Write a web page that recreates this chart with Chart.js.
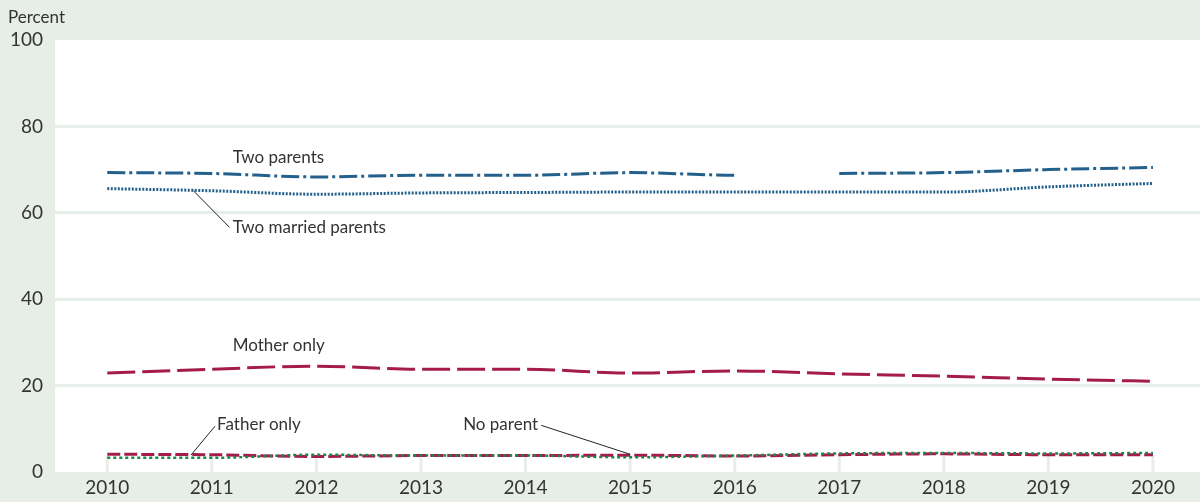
<!DOCTYPE html>
<html>
<head>
<meta charset="utf-8">
<script src="https://cdn.jsdelivr.net/npm/chart.js@4/dist/chart.umd.min.js"></script>
<style>
  html, body { margin: 0; padding: 0; background: #e7eee8; }
  #wrap { width: 1200px; height: 502px; position: relative; }
</style>
</head>
<body>
<div id="wrap"><canvas id="chart"></canvas></div>
<script>
// dados
const anos = [2010, 2011, 2012, 2013, 2014, 2015, 2016, 2017, 2018, 2019, 2020];
const doisPais = [69.3, 69.1, 68.3, 68.7, 68.7, 69.3, 68.7, 69.1, 69.3, 70.0, 70.5];
const doisPaisCasados = [65.6, 65.1, 64.3, 64.6, 64.7, 64.8, 64.8, 64.8, 64.8, 66.0, 66.8];
const soMae = [22.9, 23.8, 24.5, 23.8, 23.8, 22.9, 23.4, 22.7, 22.2, 21.5, 21.0];
const soPai = [4.1, 4.0, 3.6, 3.8, 3.8, 3.9, 3.7, 4.0, 4.2, 4.0, 4.0];
const semPais = [3.3, 3.3, 4.0, 3.8, 3.8, 3.4, 3.8, 4.3, 4.4, 4.3, 4.4];
const yTicks = [0, 20, 40, 60, 80, 100];

const BG = "#e7eee8";
const AZUL = "#24608c";
const VERMELHO = "#a51c4b";
const VERDE = "#17884a";
const TEXTO = "#333333";
const FONTE = "Lato, 'Open Sans', sans-serif";

// rótulos: [texto, x, y, alinhamento, linha guia (x1,y1,x2,y2) em unidades do gráfico]
const rotulos = [
  ["Two parents", 2011.2, 72.9, "left", null],
  ["Two married parents", 2011.2, 56.6, "left", [2010.82, 65.2, 2011.17, 56.6]],
  ["Mother only", 2011.2, 29.2, "left", null],
  ["Father only", 2011.05, 11.0, "left", [2010.8, 3.9, 2011.03, 10.6]],
  ["No parent", 2014.12, 11.0, "right", [2014.15, 10.8, 2015.0, 4.1]],
];

function pontos(valores) {
  return anos.map((a, i) => ({ x: a, y: valores[i] }));
}

// =======================
// plugin: fundo branco, marcas do eixo x e rótulos
// =======================
const extras = {
  id: "extras",
  beforeDraw(chart) {
    const { ctx, chartArea: a } = chart;
    ctx.save();
    ctx.fillStyle = "#ffffff";
    ctx.fillRect(a.left, a.top, a.right - a.left, a.bottom - a.top);
    ctx.restore();
  },
  beforeDatasetsDraw(chart) {
    const { ctx, chartArea: a, scales } = chart;
    ctx.save();
    ctx.strokeStyle = BG;
    ctx.lineWidth = 3;
    anos.forEach((ano) => {
      const x = scales.x.getPixelForValue(ano);
      ctx.beginPath();
      ctx.moveTo(x, a.bottom);
      ctx.lineTo(x, a.bottom - 16);
      ctx.stroke();
    });
    ctx.restore();
  },
  afterDraw(chart) {
    const { ctx, scales } = chart;
    ctx.save();
    ctx.font = "17px " + FONTE;
    ctx.fillStyle = TEXTO;
    ctx.textBaseline = "middle";
    ctx.fillText("Percent", 8, 18);
    rotulos.forEach(([texto, x, y, alinh, guia]) => {
      ctx.textAlign = alinh;
      ctx.fillText(texto, scales.x.getPixelForValue(x), scales.y.getPixelForValue(y));
      if (guia) {
        ctx.strokeStyle = "#222";
        ctx.lineWidth = 1;
        ctx.beginPath();
        ctx.moveTo(scales.x.getPixelForValue(guia[0]), scales.y.getPixelForValue(guia[1]));
        ctx.lineTo(scales.x.getPixelForValue(guia[2]), scales.y.getPixelForValue(guia[3]));
        ctx.stroke();
      }
    });
    ctx.restore();
  },
};

const serie = (label, valores, cor, dash, largura) => ({
  label,
  data: pontos(valores),
  borderColor: cor,
  borderWidth: largura,
  borderDash: dash,
  pointRadius: 0,
  fill: false,
  cubicInterpolationMode: "monotone",
});

const doisPaisSerie = serie("Two parents", doisPais, AZUL, [18, 4, 3, 4], 3);
// lacuna entre 2016 e 2017
doisPaisSerie.segment = {
  borderColor: (c) => (c.p0DataIndex === 6 ? "transparent" : undefined),
};

new Chart(document.getElementById("chart"), {
  type: "line",
  data: {
    datasets: [
      doisPaisSerie,
      serie("Two married parents", doisPaisCasados, AZUL, [2, 1.5], 3),
      serie("Mother only", soMae, VERMELHO, [28, 7], 3),
      serie("No parent", semPais, VERDE, [3, 3], 2.5),
      serie("Father only", soPai, VERMELHO, [13, 4], 3),
    ],
  },
  options: {
    responsive: true,
    maintainAspectRatio: false,
    animation: false,
    layout: { padding: { top: 40, right: 0, left: 0, bottom: 0 } },
    plugins: { legend: { display: false }, tooltip: { enabled: false } },
    scales: {
      x: {
        type: "linear",
        min: 2009.5,
        max: 2020.45,
        afterBuildTicks: (s) => { s.ticks = anos.map((v) => ({ value: v })); },
        afterFit: (s) => { s.height = 30; },
        grid: { display: false, drawTicks: false },
        border: { display: false },
        ticks: {
          color: TEXTO,
          font: { family: FONTE, size: 19 },
          padding: 4,
          maxRotation: 0,
          callback: (v) => String(v),
        },
      },
      y: {
        min: 0,
        max: 100,
        afterBuildTicks: (s) => { s.ticks = yTicks.map((v) => ({ value: v })); },
        afterFit: (s) => { s.width = 55; },
        grid: {
          drawTicks: false,
          lineWidth: 3,
          color: (c) => (c.tick.value === 0 || c.tick.value === 100 ? "transparent" : BG),
        },
        border: { display: false },
        ticks: {
          color: TEXTO,
          font: { family: FONTE, size: 19 },
          padding: 12,
        },
      },
    },
  },
  plugins: [extras],
});
</script>
</body>
</html>
